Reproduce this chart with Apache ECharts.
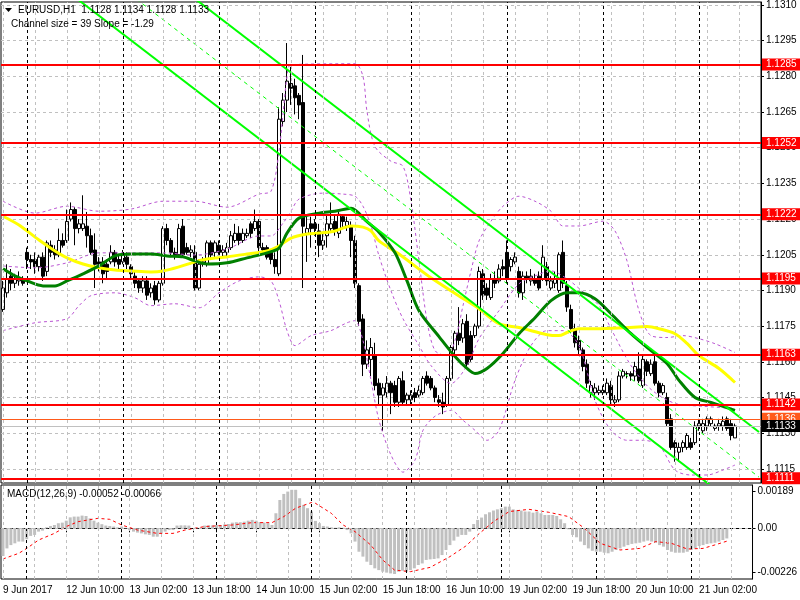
<!DOCTYPE html>
<html><head><meta charset="utf-8">
<script src="https://cdn.jsdelivr.net/npm/echarts@6/dist/echarts.min.js"></script>
<style>html,body{margin:0;padding:0;background:#fff}#c{width:800px;height:600px}</style>
</head><body><div id="c"></div>
<script>
// ---------- DATA ----------
const timeLabels = ["9 Jun 2017","12 Jun 10:00","13 Jun 02:00","13 Jun 18:00","14 Jun 10:00","15 Jun 02:00","15 Jun 18:00","16 Jun 10:00","19 Jun 02:00","19 Jun 18:00","20 Jun 10:00","21 Jun 02:00"];
const daySeparators = [6,30,54,78,102,126,150,174];
const priceTicks = [1.1115,1.1130,1.1145,1.1160,1.1175,1.1190,1.1205,1.1220,1.1235,1.1250,1.1265,1.1280,1.1295,1.1310];
const macdTicks = [0.00189, 0, -0.00226];
const levels = [1.1285,1.1252,1.1222,1.1195,1.1163,1.1142,1.1111];
const askLevel = 1.1136;
const bidLevel = 1.1133;

const open = [
1.1182,1.1189,1.1196,1.1193,1.1194,1.1195,1.1206,1.1203,1.1203,1.1200,
1.1204,1.1198,1.1209,1.1207,1.1205,1.1211,1.1211,1.1220,1.1224,1.1216,
1.1216,1.1217,1.1213,1.1207,1.1202,1.1202,1.1201,1.1202,1.1206,1.1203,
1.1202,1.1204,1.1200,1.1196,1.1194,1.1191,1.1194,1.1189,1.1192,1.1186,
1.1193,1.1216,1.1211,1.1206,1.1205,1.1217,1.1208,1.1206,1.1206,1.1191,
1.1201,1.1201,1.1210,1.1206,1.1209,1.1206,1.1206,1.1208,1.1211,1.1214,
1.1211,1.1213,1.1218,1.1216,1.1219,1.1208,1.1208,1.1206,1.1203,1.1197,
1.1261,1.1270,1.1277,1.1276,1.1272,1.1269,1.1214,1.1218,1.1218,1.1215,
1.1209,1.1213,1.1216,1.1219,1.1214,1.1221,1.1217,1.1217,1.1211,1.1192,
1.1178,1.1159,1.1161,1.1163,1.1151,1.1146,1.1147,1.1151,1.1150,1.1143,
1.1152,1.1144,1.1144,1.1147,1.1146,1.1147,1.1154,1.1153,1.1149,1.1144,
1.1143,1.1142,1.1153,1.1165,1.1172,1.1170,1.1177,1.1171,1.1171,1.1175,
1.1197,1.1191,1.1187,1.1195,1.1194,1.1200,1.1206,1.1200,1.1202,1.1198,
1.1189,1.1196,1.1194,1.1195,1.1196,1.1195,1.1200,1.1191,1.1193,1.1190,
1.1206,1.1192,1.1182,1.1174,1.1169,1.1165,1.1159,1.1147,1.1147,1.1147,
1.1147,1.1147,1.1150,1.1143,1.1144,1.1154,1.1155,1.1155,1.1154,1.1157,
1.1150,1.1160,1.1155,1.1160,1.1151,1.1147,1.1145,1.1136,1.1126,1.1122,
1.1124,1.1124,1.1126,1.1126,1.1133,1.1131,1.1133,1.1134,1.1132,1.1133,
1.1133,1.1136,1.1134,1.1128];
const high = [
1.1194,1.1201,1.1199,1.1197,1.1198,1.1196,1.1208,1.1205,1.1206,1.1205,
1.1206,1.1211,1.1211,1.1209,1.1216,1.1214,1.1224,1.1227,1.1225,1.1220,
1.1230,1.1223,1.1216,1.1214,1.1204,1.1204,1.1203,1.1209,1.1207,1.1205,
1.1207,1.1206,1.1201,1.1198,1.1195,1.1196,1.1196,1.1193,1.1194,1.1194,
1.1217,1.1218,1.1212,1.1208,1.1218,1.1220,1.1210,1.1209,1.1209,1.1203,
1.1204,1.1211,1.1211,1.1211,1.1211,1.1209,1.1210,1.1215,1.1218,1.1217,
1.1216,1.1216,1.1219,1.1224,1.1220,1.1210,1.1209,1.1207,1.1206,1.1267,
1.1273,1.1294,1.1284,1.1279,1.1273,1.1289,1.1221,1.1221,1.1220,1.1218,
1.1214,1.1222,1.1227,1.1222,1.1224,1.1222,1.1221,1.1219,1.1213,1.1193,
1.1180,1.1169,1.1170,1.1168,1.1153,1.1151,1.1154,1.1152,1.1152,1.1154,
1.1156,1.1147,1.1148,1.1149,1.1150,1.1154,1.1156,1.1154,1.1150,1.1146,
1.1147,1.1154,1.1167,1.1173,1.1183,1.1178,1.1180,1.1173,1.1176,1.1200,
1.1199,1.1193,1.1197,1.1198,1.1201,1.1203,1.1211,1.1204,1.1206,1.1200,
1.1198,1.1198,1.1199,1.1197,1.1198,1.1209,1.1202,1.1196,1.1198,1.1206,
1.1211,1.1194,1.1184,1.1176,1.1171,1.1166,1.1161,1.1152,1.1151,1.1150,
1.1150,1.1153,1.1152,1.1146,1.1156,1.1157,1.1156,1.1156,1.1160,1.1164,
1.1163,1.1161,1.1161,1.1164,1.1152,1.1151,1.1147,1.1138,1.1127,1.1126,
1.1127,1.1130,1.1128,1.1135,1.1136,1.1136,1.1137,1.1137,1.1134,1.1136,
1.1137,1.1137,1.1136,1.1134];
const low = [
1.1181,1.1187,1.1190,1.1191,1.1192,1.1192,1.1199,1.1199,1.1197,1.1198,
1.1194,1.1196,1.1204,1.1203,1.1204,1.1208,1.1210,1.1219,1.1209,1.1214,
1.1215,1.1208,1.1205,1.1191,1.1198,1.1193,1.1195,1.1201,1.1200,1.1199,
1.1201,1.1199,1.1195,1.1191,1.1189,1.1189,1.1186,1.1187,1.1184,1.1185,
1.1192,1.1209,1.1204,1.1203,1.1204,1.1204,1.1205,1.1204,1.1190,1.1190,
1.1200,1.1200,1.1203,1.1204,1.1205,1.1204,1.1204,1.1207,1.1210,1.1209,
1.1210,1.1212,1.1212,1.1215,1.1206,1.1206,1.1203,1.1201,1.1197,1.1196,
1.1259,1.1265,1.1268,1.1264,1.1262,1.1191,1.1202,1.1208,1.1213,1.1204,
1.1207,1.1208,1.1215,1.1213,1.1212,1.1216,1.1215,1.1204,1.1191,1.1175,
1.1154,1.1157,1.1154,1.1148,1.1142,1.1131,1.1145,1.1138,1.1141,1.1141,
1.1142,1.1142,1.1142,1.1143,1.1145,1.1146,1.1150,1.1148,1.1143,1.1141,
1.1138,1.1141,1.1152,1.1163,1.1167,1.1168,1.1158,1.1160,1.1170,1.1174,
1.1186,1.1186,1.1186,1.1191,1.1193,1.1196,1.1193,1.1198,1.1201,1.1187,
1.1186,1.1193,1.1192,1.1192,1.1190,1.1194,1.1192,1.1190,1.1191,1.1189,
1.1191,1.1181,1.1172,1.1166,1.1163,1.1156,1.1149,1.1145,1.1144,1.1146,
1.1146,1.1146,1.1142,1.1141,1.1143,1.1153,1.1153,1.1152,1.1152,1.1151,
1.1149,1.1154,1.1154,1.1150,1.1145,1.1146,1.1133,1.1123,1.1118,1.1118,
1.1122,1.1123,1.1123,1.1125,1.1131,1.1130,1.1131,1.1133,1.1131,1.1131,
1.1131,1.1131,1.1127,1.1128];
const close = [
1.1191,1.1195,1.1193,1.1195,1.1195,1.1193,1.1203,1.1202,1.1200,1.1204,
1.1196,1.1210,1.1206,1.1205,1.1211,1.1209,1.1219,1.1224,1.1216,1.1218,
1.1218,1.1213,1.1206,1.1201,1.1201,1.1197,1.1198,1.1206,1.1202,1.1201,
1.1205,1.1201,1.1197,1.1193,1.1191,1.1194,1.1188,1.1191,1.1186,1.1193,
1.1216,1.1211,1.1206,1.1205,1.1216,1.1205,1.1206,1.1207,1.1191,1.1201,
1.1202,1.1210,1.1205,1.1210,1.1206,1.1207,1.1208,1.1213,1.1214,1.1211,
1.1214,1.1214,1.1214,1.1219,1.1208,1.1207,1.1204,1.1203,1.1200,1.1262,
1.1270,1.1278,1.1275,1.1271,1.1268,1.1217,1.1216,1.1216,1.1216,1.1209,
1.1211,1.1218,1.1218,1.1215,1.1222,1.1219,1.1219,1.1211,1.1193,1.1177,
1.1159,1.1165,1.1166,1.1150,1.1146,1.1149,1.1151,1.1147,1.1143,1.1153,
1.1143,1.1146,1.1146,1.1145,1.1148,1.1153,1.1151,1.1149,1.1145,1.1143,
1.1141,1.1153,1.1166,1.1172,1.1169,1.1176,1.1159,1.1161,1.1175,1.1198,
1.1188,1.1188,1.1195,1.1193,1.1199,1.1199,1.1195,1.1203,1.1204,1.1189,
1.1196,1.1195,1.1196,1.1193,1.1191,1.1204,1.1194,1.1194,1.1195,1.1205,
1.1193,1.1183,1.1174,1.1168,1.1165,1.1158,1.1151,1.1150,1.1149,1.1148,
1.1148,1.1151,1.1144,1.1144,1.1154,1.1156,1.1155,1.1154,1.1158,1.1152,
1.1161,1.1156,1.1159,1.1151,1.1147,1.1150,1.1134,1.1124,1.1124,1.1124,
1.1126,1.1129,1.1124,1.1133,1.1134,1.1134,1.1136,1.1136,1.1133,1.1134,
1.1135,1.1132,1.1129,1.1133];

const macd = [
-0.00142,-0.00103,-0.00086,-0.00077,-0.00068,-0.00068,-0.00056,-0.00039,-0.00034,-0.00017,
-0.00012,0.00005,0.00012,0.00017,0.00026,0.00029,0.00039,0.00056,0.00060,0.00060,
0.00065,0.00063,0.00051,0.00039,0.00029,0.00021,0.00014,0.00012,0.00009,0.00005,
0.00009,0.00003,-0.00009,-0.00017,-0.00022,-0.00026,-0.00031,-0.00034,-0.00043,-0.00043,
-0.00026,-0.00017,-0.00009,-0.00009,0.00014,0.00015,0.00015,0.00014,0.00000,0.00003,
0.00003,0.00014,0.00015,0.00015,0.00017,0.00017,0.00019,0.00022,0.00029,0.00031,
0.00031,0.00034,0.00039,0.00043,0.00039,0.00032,0.00029,0.00026,0.00017,0.00077,
0.00145,0.00176,0.00188,0.00197,0.00197,0.00154,0.00120,0.00103,0.00086,0.00038,
0.00026,0.00012,0.00009,0.00005,0.00003,0.00005,0.00003,-0.00009,-0.00026,-0.00068,
-0.00120,-0.00145,-0.00171,-0.00188,-0.00205,-0.00214,-0.00222,-0.00227,-0.00231,-0.00234,
-0.00222,-0.00217,-0.00222,-0.00214,-0.00205,-0.00188,-0.00180,-0.00162,-0.00159,-0.00157,
-0.00154,-0.00137,-0.00111,-0.00086,-0.00063,-0.00043,-0.00034,-0.00034,-0.00017,0.00022,
0.00043,0.00055,0.00072,0.00082,0.00091,0.00097,0.00103,0.00111,0.00111,0.00097,
0.00094,0.00091,0.00086,0.00086,0.00080,0.00086,0.00077,0.00068,0.00068,0.00068,
0.00063,0.00046,0.00026,-0.00005,-0.00034,-0.00046,-0.00068,-0.00086,-0.00103,-0.00115,
-0.00120,-0.00120,-0.00125,-0.00128,-0.00120,-0.00111,-0.00103,-0.00094,-0.00086,-0.00080,
-0.00077,-0.00074,-0.00068,-0.00063,-0.00068,-0.00074,-0.00086,-0.00094,-0.00111,-0.00120,
-0.00125,-0.00125,-0.00125,-0.00120,-0.00111,-0.00103,-0.00091,-0.00086,-0.00080,-0.00077,
-0.00074,-0.00068,-0.00060,-0.00052];

// [bar index, value] read at sampled bars
const signal = [[0,-0.00157],[4,-0.00128],[6,-0.00103],[9,-0.00060],[13,-0.00026],[16,0.00009],[19,0.00034],[24,0.00051],[27,0.00046],[30,0.00017],[34,-0.00009],[39,-0.00026],[43,-0.00026],[46,-0.00009],[51,0.00009],[58,0.00017],[63,0.00029],[68,0.00029],[71,0.00060],[74,0.00103],[78,0.00132],[79,0.00128],[83,0.00077],[86,0.00017],[89,-0.00017],[93,-0.00086],[96,-0.00162],[99,-0.00214],[103,-0.00222],[108,-0.00200],[113,-0.00145],[117,-0.00091],[120,-0.00034],[124,0.00034],[128,0.00086],[133,0.00097],[138,0.00082],[143,0.00060],[147,0.00000],[151,-0.00077],[156,-0.00111],[161,-0.00103],[165,-0.00068],[169,-0.00077],[173,-0.00106],[177,-0.00103],[180,-0.00085],[183,-0.00066]];

const maYellow = [[0,1.12212],[4,1.12175],[9,1.12112],[13,1.12066],[16,1.12037],[20,1.12011],[24,1.11995],[28,1.11986],[32,1.11982],[37,1.11978],[40,1.11982],[44,1.11999],[48,1.12020],[51,1.12032],[56,1.12041],[61,1.12053],[66,1.12066],[69,1.12087],[72,1.12120],[76,1.12137],[79,1.12141],[83,1.12150],[87,1.12171],[90,1.12166],[92,1.12150],[94,1.12108],[99,1.12053],[107,1.11953],[114,1.11877],[119,1.11823],[124,1.11760],[129,1.11744],[136,1.11714],[139,1.11710],[141,1.11723],[144,1.11739],[149,1.11739],[156,1.11744],[161,1.11748],[164,1.11739],[168,1.11718],[171,1.11677],[174,1.11626],[179,1.11572],[183,1.11513]];

const maGreen = [[0,1.11991],[3,1.11961],[6,1.11940],[10,1.11919],[13,1.11919],[16,1.11940],[20,1.11970],[24,1.12003],[28,1.12045],[32,1.12053],[37,1.12053],[41,1.12045],[45,1.12041],[48,1.12024],[51,1.12011],[56,1.12016],[61,1.12037],[66,1.12058],[69,1.12078],[71,1.12141],[74,1.12204],[79,1.12225],[83,1.12233],[87,1.12246],[91,1.12189],[94,1.12145],[98,1.12058],[101,1.11940],[104,1.11815],[109,1.11706],[113,1.11622],[116,1.11572],[118,1.11551],[121,1.11572],[125,1.11635],[129,1.11718],[133,1.11785],[137,1.11857],[141,1.11890],[144,1.11890],[148,1.11865],[152,1.11802],[157,1.11718],[162,1.11647],[166,1.11593],[169,1.11522],[173,1.11450],[177,1.11429],[183,1.11396]];

const bbUpper = [[0,1.12275],[8,1.12225],[16,1.12254],[24,1.12233],[32,1.12242],[40,1.12275],[48,1.12275],[56,1.12250],[64,1.12305],[67,1.12317],[69,1.12485],[71,1.12799],[72,1.12849],[88,1.12853],[90,1.12799],[91,1.12652],[93,1.12505],[97,1.12443],[100,1.12422],[102,1.12275],[104,1.12024],[106,1.11773],[108,1.11647],[111,1.11626],[113,1.11689],[115,1.11836],[117,1.11982],[119,1.12108],[122,1.12191],[125,1.12254],[129,1.12296],[133,1.12275],[137,1.12233],[140,1.12171],[144,1.12171],[150,1.12191],[153,1.12150],[156,1.12024],[159,1.11815],[162,1.11710],[166,1.11702],[170,1.11710],[174,1.11697],[178,1.11676],[183,1.11639]];

const bbMiddle = [[0,1.12003],[8,1.11995],[16,1.12016],[24,1.12058],[32,1.12058],[40,1.12058],[48,1.12049],[56,1.12074],[64,1.12129],[67,1.12129],[70,1.12183],[72,1.12233],[74,1.12284],[80,1.12309],[85,1.12305],[88,1.12296],[90,1.12254],[92,1.12171],[94,1.12045],[97,1.11898],[100,1.11781],[104,1.11668],[107,1.11584],[112,1.11509],[116,1.11584],[119,1.11697],[124,1.11815],[129,1.11928],[133,1.11961],[137,1.11982],[141,1.11949],[145,1.11894],[149,1.11836],[152,1.11739],[157,1.11584],[162,1.11484],[168,1.11425],[175,1.11413],[183,1.11404]];

const bbLower = [[0,1.11731],[8,1.11764],[16,1.11781],[19,1.11836],[22,1.11878],[28,1.11890],[33,1.11869],[37,1.11836],[43,1.11844],[49,1.11827],[54,1.11890],[59,1.11940],[64,1.11957],[67,1.11940],[69,1.11857],[71,1.11731],[73,1.11668],[77,1.11710],[82,1.11731],[86,1.11764],[88,1.11773],[90,1.11689],[92,1.11522],[94,1.11354],[97,1.11208],[100,1.11136],[103,1.11187],[105,1.11312],[108,1.11371],[112,1.11396],[115,1.11354],[118,1.11312],[121,1.11270],[124,1.11312],[128,1.11522],[132,1.11668],[136,1.11731],[140,1.11731],[144,1.11668],[148,1.11438],[152,1.11312],[156,1.11270],[160,1.11270],[164,1.11249],[168,1.11145],[172,1.11124],[176,1.11124],[180,1.11145],[183,1.11166]];

const channelUpper = [[0,1.13746],[189,1.11305]];
const channelMiddle = [[0,1.13555],[189,1.11115]];
const channelLower = [[0,1.13365],[189,1.10924]];

// ---------- LAYOUT ----------
const N = 190;
const PRICE_MIN = 1.110904, PRICE_MAX = 1.131126;
const MACD_MIN = -0.002596, MACD_MAX = 0.002217;
const FONT = '"Liberation Sans",Arial,sans-serif';
const FS = 10;

const categories = Array.from({length: N}, (_, i) =>
  (i % 16 === 0 && i / 16 < timeLabels.length) ? timeLabels[i / 16] : '');
const ohlc = open.map((o, i) => [o, close[i], low[i], high[i]]);

const vGrid = [];
for (let i = 0; i < N; i += 8) vGrid.push({xAxis: i, lineStyle: {color: '#c0c0c0', type: [3, 3], width: 1}});
daySeparators.forEach(i => vGrid.push({xAxis: i, lineStyle: {color: '#000', type: [3, 3], width: 1}}));

const nulls = categories.map(() => null);
const lvlLabel = (bg, fg, txt) => ({show: true, position: 'end', distance: 1, color: fg, backgroundColor: bg,
  fontSize: FS, fontFamily: FONT, lineHeight: 11, padding: [1, 12, 0, 4], formatter: txt});

const levelLines = levels.map(v => ({yAxis: v, lineStyle: {color: '#ff0000', width: 2, type: 'solid'}, label: lvlLabel('#ff0000', '#fff', v.toFixed(4))}));
levelLines.push({yAxis: askLevel, lineStyle: {color: '#ff5a1a', width: 1, type: 'solid'}, label: lvlLabel('#ff5a1a', '#fff', askLevel.toFixed(4))});
levelLines.push({yAxis: bidLevel, lineStyle: {color: '#c0c0c0', width: 1, type: 'solid'}, label: lvlLabel('#000', '#fff', bidLevel.toFixed(4))});

const lineS = (data, color, width, type, z, smooth) => ({
  type: 'line', xAxisIndex: 0, yAxisIndex: 0, data, symbol: 'none', silent: true, z,
  smooth: smooth || 0, lineStyle: {color, width, type: type || 'solid'}
});

const chart = echarts.init(document.getElementById('c'), null, {renderer: 'canvas'});
chart.setOption({
  animation: false,
  backgroundColor: '#ffffff',
  grid: [
    {left: 1, top: 0, width: 760, height: 483, show: true, borderColor: '#000', borderWidth: 1, backgroundColor: 'transparent'},
    {left: 1, top: 485, width: 760, height: 94, show: true, borderColor: '#000', borderWidth: 1, backgroundColor: 'transparent'}
  ],
  xAxis: [
    {type: 'category', gridIndex: 0, data: categories, boundaryGap: true,
     axisLine: {show: false}, axisTick: {show: false}, axisLabel: {show: false}, splitLine: {show: false}},
    {type: 'category', gridIndex: 1, data: categories, boundaryGap: true,
     axisLine: {show: true, lineStyle: {color: '#000', width: 1}},
     axisTick: {show: true, alignWithLabel: true, length: 4, lineStyle: {color: '#000'},
       interval: (i) => (i % 16 === 0) || daySeparators.indexOf(i) >= 0},
     axisLabel: {show: true, interval: 0, align: 'left', margin: 6, color: '#000', fontSize: FS, fontFamily: FONT},
     splitLine: {show: false}}
  ],
  yAxis: [
    {type: 'value', gridIndex: 0, position: 'right', min: PRICE_MIN, max: PRICE_MAX,
     axisLine: {show: true, lineStyle: {color: '#000'}},
     axisTick: {show: true, length: 3, customValues: priceTicks, lineStyle: {color: '#000'}},
     axisLabel: {show: true, customValues: priceTicks, formatter: v => v.toFixed(4), margin: 5, color: '#000', fontSize: FS, fontFamily: FONT},
     splitLine: {show: true, lineStyle: {color: '#c0c0c0', type: [3, 3], width: 1}}},
    {type: 'value', gridIndex: 1, position: 'right', min: MACD_MIN, max: MACD_MAX,
     axisLine: {show: true, lineStyle: {color: '#000'}},
     axisTick: {show: true, length: 3, customValues: macdTicks, lineStyle: {color: '#000'}},
     axisLabel: {show: true, customValues: macdTicks, formatter: v => (v === 0 ? '0.00' : v.toFixed(5)), margin: 5, color: '#000', fontSize: FS, fontFamily: FONT},
     splitLine: {show: false}}
  ],
  series: [
    {type: 'line', xAxisIndex: 0, yAxisIndex: 0, data: nulls, z: 0, silent: true, symbol: 'none',
     markLine: {silent: true, symbol: ['none', 'none'], animation: false, label: {show: false}, data: vGrid}},
    {type: 'line', xAxisIndex: 1, yAxisIndex: 1, data: nulls, z: 0, silent: true, symbol: 'none',
     markLine: {silent: true, symbol: ['none', 'none'], animation: false, precision: 6, label: {show: false},
       data: vGrid.concat([{yAxis: 0, lineStyle: {color: '#c0c0c0', type: [3, 3], width: 1}}])}},
    {type: 'candlestick', xAxisIndex: 0, yAxisIndex: 0, data: ohlc, barWidth: 3, z: 2, silent: true,
     itemStyle: {color: '#ffffff', color0: '#000000', borderColor: '#000000', borderColor0: '#000000', borderWidth: 1}},
    lineS(bbUpper, '#ba55d3', 1, [3, 3], 3, 0.3),
    lineS(bbMiddle, '#ba55d3', 1, [3, 3], 3, 0.3),
    lineS(bbLower, '#ba55d3', 1, [3, 3], 3, 0.3),
    lineS(maYellow, '#ffff00', 3, 'solid', 3, 0.3),
    lineS(maGreen, '#008000', 3, 'solid', 3, 0.3),
    lineS(channelUpper, '#00ff00', 2, 'solid', 4),
    lineS(channelLower, '#00ff00', 2, 'solid', 4),
    lineS(channelMiddle, '#00ff00', 1, [4, 4], 4),
    {type: 'line', xAxisIndex: 0, yAxisIndex: 0, data: nulls, z: 5, silent: true, symbol: 'none',
     markLine: {silent: true, symbol: ['none', 'none'], animation: false, precision: 6, data: levelLines}},
    {type: 'bar', xAxisIndex: 1, yAxisIndex: 1, data: macd, barWidth: 3, z: 2, silent: true,
     itemStyle: {color: '#c0c0c0'}},
    {type: 'line', xAxisIndex: 1, yAxisIndex: 1, data: signal, symbol: 'none', silent: true, z: 3,
     lineStyle: {color: '#ff0000', width: 1, type: [3, 3]}}
  ],
  graphic: [
    {type: 'polygon', shape: {points: [[5, 8], [12, 8], [8.5, 12]]}, style: {fill: '#000'}, z: 100},
    {type: 'text', left: 18, top: 5, z: 100, style: {text: 'EURUSD,H1  1.1128 1.1134 1.1128 1.1133', fill: '#000', fontSize: FS, fontFamily: FONT}},
    {type: 'text', left: 11, top: 19, z: 100, style: {text: 'Channel size = 39 Slope = -1.29', fill: '#000', fontSize: FS, fontFamily: FONT}},
    {type: 'text', left: 7, top: 489, z: 100, style: {text: 'MACD(12,26,9) -0.00052 -0.00066', fill: '#000', fontSize: FS, fontFamily: FONT}}
  ]
});
</script></body></html>
